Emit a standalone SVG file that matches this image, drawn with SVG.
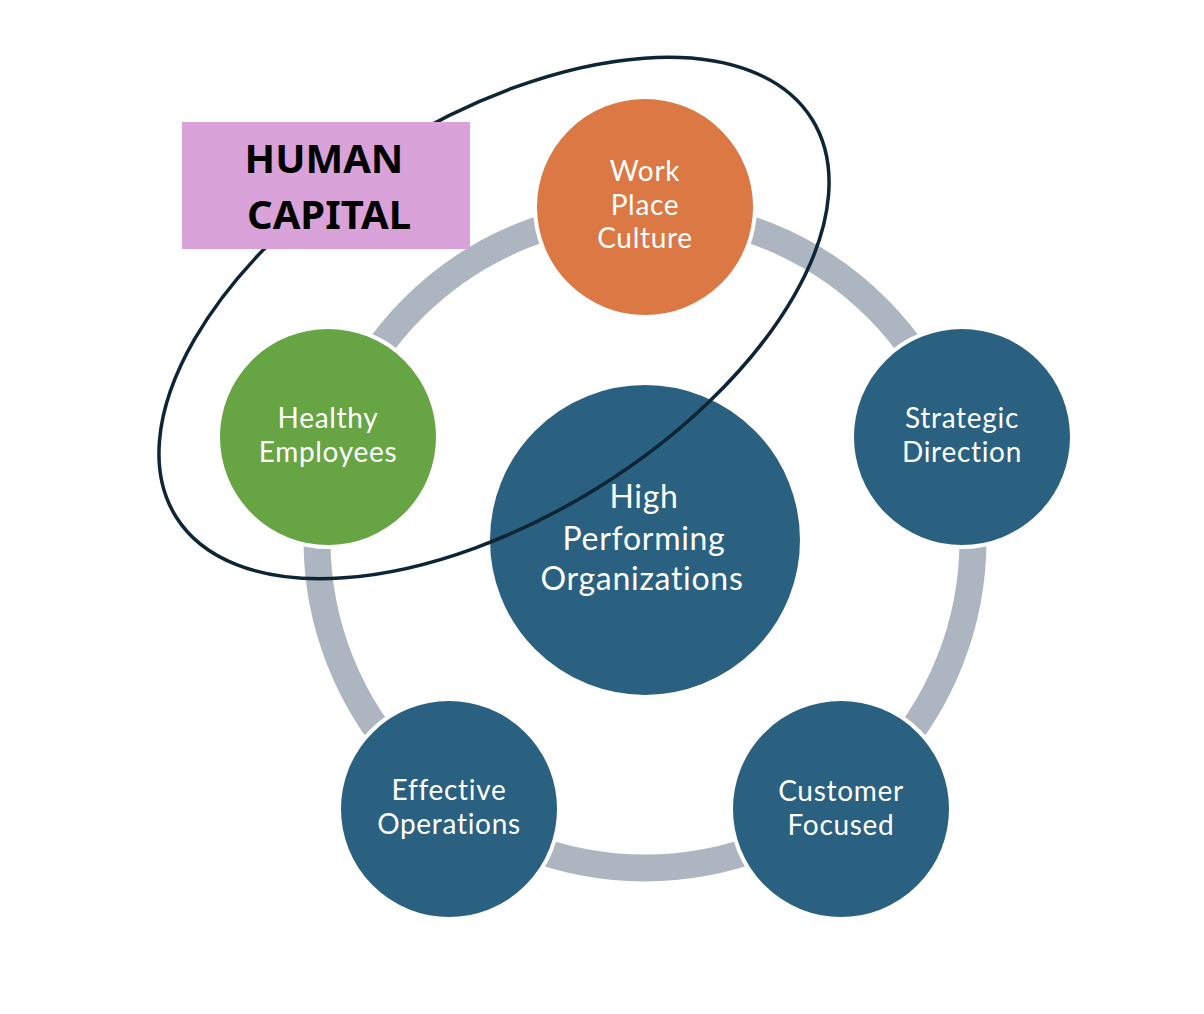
<svg xmlns="http://www.w3.org/2000/svg" width="1204" height="1014" viewBox="0 0 1204 1014">
  <style>
    .node { stroke: #ffffff; stroke-width: 4; }
    .blue { fill: #2a6080; }
    .orange { fill: #dc7843; }
    .green { fill: #67a444; }
    .lbl { font-family: Lato, "Noto Sans", sans-serif; fill: #ffffff; font-size: 28px; letter-spacing: 0.7px; text-anchor: middle; font-variant-ligatures: none; }
    .big { font-size: 32px; letter-spacing: 0.7px; }
    .hc { font-family: "Noto Sans", "Liberation Sans", sans-serif; font-weight: bold; font-size: 40px; fill: #000000; text-anchor: middle; }
  </style>
  <rect width="1204" height="1014" fill="#ffffff"/>
  <g id="connectors">
    <circle cx="645" cy="540" r="328" fill="none" stroke="#adb6c0" stroke-width="27"/>
  </g>
  <g id="node-workplace">
    <circle class="node orange" cx="645" cy="207" r="110"/>
    <text class="lbl" x="645" y="181">Work</text>
    <text class="lbl" x="645" y="215">Place</text>
    <text class="lbl" x="645" y="248">Culture</text>
  </g>
  <g id="node-strategic">
    <circle class="node blue" cx="962" cy="437" r="110"/>
    <text class="lbl" x="962" y="428">Strategic</text>
    <text class="lbl" x="962" y="462">Direction</text>
  </g>
  <g id="node-customer">
    <circle class="node blue" cx="841" cy="809" r="110"/>
    <text class="lbl" x="841" y="801">Customer</text>
    <text class="lbl" x="841" y="835">Focused</text>
  </g>
  <g id="node-effective">
    <circle class="node blue" cx="449" cy="809" r="110"/>
    <text class="lbl" x="449" y="800">Effective</text>
    <text class="lbl" x="449" y="834">Operations</text>
  </g>
  <g id="node-healthy">
    <circle class="node green" cx="328" cy="437" r="110"/>
    <text class="lbl" x="328" y="428">Healthy</text>
    <text class="lbl" x="328" y="462">Employees</text>
  </g>
  <g id="node-center">
    <circle class="node blue" cx="645" cy="540" r="157"/>
    <text class="lbl big" x="644" y="508">High</text>
    <text class="lbl big" x="644" y="550">Performing</text>
    <text class="lbl big" x="642" y="590">Organizations</text>
  </g>
  <g id="human-capital">
    <ellipse cx="494" cy="318" rx="375" ry="199" transform="rotate(-32 494 318)" fill="none" stroke="#0e2535" stroke-width="3.5"/>
    <rect x="182" y="122" width="288" height="127" fill="#d9a3d9"/>
    <text class="hc" x="324" y="173">HUMAN</text>
    <text class="hc" x="329" y="229">CAPITAL</text>
  </g>
</svg>
